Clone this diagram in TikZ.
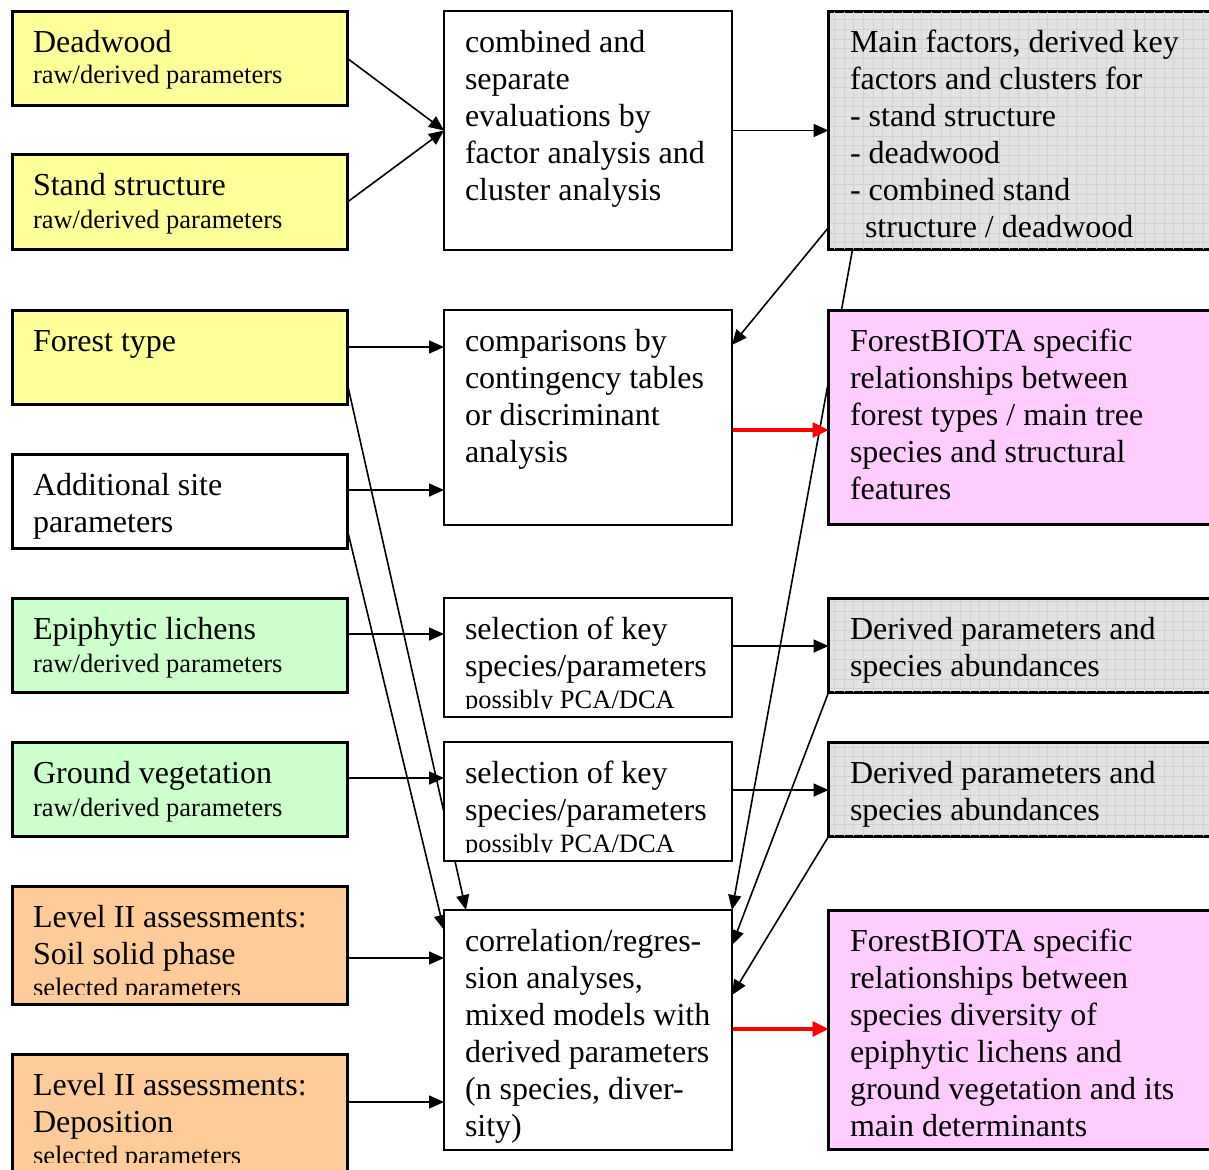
\documentclass[tikz,border=0pt]{standalone}
\usepackage{fontspec}
\setmainfont{Liberation Serif}
\usetikzlibrary{arrows.meta,backgrounds}
\definecolor{cyellow}{HTML}{FFFF99}
\definecolor{cgreen}{HTML}{CCFFCC}
\definecolor{corange}{HTML}{FFCC99}
\definecolor{cpink}{HTML}{FFCCFF}
\definecolor{cgray}{HTML}{E2E2E2}
\definecolor{cgrid}{HTML}{D2D2D2}
\tikzset{
  box/.style={draw=black, rectangle, anchor=north west, inner sep=0pt, outer sep=0pt},
  lbox/.style={box, line width=3pt, minimum width=335pt},
  mbox/.style={box, line width=2pt, fill=white, minimum width=288pt},
  rbox/.style={box, line width=3pt, minimum width=400pt},
  txt/.style={anchor=north west, inner sep=0pt, outer sep=0pt, align=left, font=\fontsize{32}{37}\selectfont},
  stxt/.style={anchor=base west, inner sep=0pt, outer sep=0pt, font=\fontsize{26.5}{31}\selectfont},
  conn/.style={line width=1.6pt, -{Triangle[length=15pt,width=13pt]}},
  redconn/.style={color=red, line width=3.2pt, -{Triangle[length=16pt,width=15pt]}},
  gridline/.style={draw=cgrid, line width=0.5pt}
}
\newcommand{\graygrid}[1]{%
  \begin{scope}
    \clip ([shift={(1.5pt,1.5pt)}]#1.south west) rectangle ([shift={(-1.5pt,-1.5pt)}]#1.north east);
    \draw[gridline, step=9.7pt] (#1.south west) grid (#1.north east);
  \end{scope}}
\begin{document}
\begin{tikzpicture}[x=1pt,y=-1pt]
\useasboundingbox (0,0) rectangle (1209,1169);

% ---------- left column ----------
\node[lbox, fill=cyellow, minimum height=94pt] (dead) at (12.5,11.5) {};
\node[txt] (deadT) at (33,27) {\strut Deadwood};
\node[stxt] (deadS) at (33,84) {raw/derived parameters};

\node[lbox, fill=cyellow, minimum height=95pt] (stand) at (12.5,154.5) {};
\node[txt] (standT) at (33,170) {\strut Stand structure};
\node[stxt] (standS) at (33,228) {raw/derived parameters};

\node[lbox, fill=cyellow, minimum height=94pt] (forest) at (12.5,310.5) {};
\node[txt] (forestT) at (33,326) {\strut Forest type};

\node[lbox, fill=white, minimum height=94pt] (addl) at (12.5,454.5) {};
\node[txt] (addlT) at (33,470) {\strut Additional site\\parameters};

\node[lbox, fill=cgreen, minimum height=94pt] (epi) at (12.5,598.5) {};
\node[txt] (epiT) at (33,614) {\strut Epiphytic lichens};
\node[stxt] (epiS) at (33,672) {raw/derived parameters};

\node[lbox, fill=cgreen, minimum height=94pt] (ground) at (12.5,742.5) {};
\node[txt] (groundT) at (33,758) {\strut Ground vegetation};
\node[stxt] (groundS) at (33,816) {raw/derived parameters};

\node[lbox, fill=corange, minimum height=118pt] (soil) at (12.5,886.5) {};
\node[txt] (soilT) at (33,902) {\strut Level II assessments:\\Soil solid phase};
\begin{scope}
  \clip (14,960) rectangle (346,994);
  \node[stxt] (soilS) at (33,996) {selected parameters};
\end{scope}

\node[lbox, fill=corange, minimum height=150pt] (depo) at (12.5,1054.5) {};
\node[txt] (depoT) at (33,1070) {\strut Level II assessments:\\Deposition};
\begin{scope}
  \clip (14,1130) rectangle (346,1162);
  \node[stxt] (depoS) at (33,1164) {selected parameters};
\end{scope}

% ---------- middle column ----------
\node[mbox, minimum height=239pt] (comb) at (444,11) {};
\node[txt] (combT) at (465,27) {\strut combined and\\separate\\evaluations by\\factor analysis and\\cluster analysis};

\node[mbox, minimum height=215pt] (comp) at (444,310) {};
\node[txt] (compT) at (465,326) {\strut comparisons by\\contingency tables\\or discriminant\\analysis};

\node[mbox, minimum height=119pt] (sel1) at (444,598) {};
\node[txt] (sel1T) at (465,614) {\strut selection of key\\species/parameters};
\begin{scope}
  \clip (446,680) rectangle (730,708);
  \node[stxt] (sel1S) at (465,708) {possibly PCA/DCA};
\end{scope}

\node[mbox, minimum height=119pt] (sel2) at (444,742) {};
\node[txt] (sel2T) at (465,758) {\strut selection of key\\species/parameters};
\begin{scope}
  \clip (446,824) rectangle (730,852);
  \node[stxt] (sel2S) at (465,852) {possibly PCA/DCA};
\end{scope}

\node[mbox, minimum height=240pt] (corr) at (444,910) {};
\node[txt] (corrT) at (465,926) {\strut correlation/regres-\\sion analyses,\\mixed models with\\derived parameters\\(n species, diver-\\sity)};

% ---------- right column ----------
\node[rbox, fill=cgray, minimum height=238pt] (main) at (828.5,11.5) {};
\graygrid{main}
\node[txt] (mainT) at (850,27) {\strut Main factors, derived key\\factors and clusters for\\- stand structure\\- deadwood\\- combined stand\\\hspace*{15pt}structure / deadwood};

\node[rbox, fill=cpink, minimum height=214pt] (pink1) at (828.5,310.5) {};
\node[txt] (pink1T) at (850,326) {\strut ForestBIOTA specific\\relationships between\\forest types / main tree\\species and structural\\features};

\node[rbox, fill=cgray, minimum height=94pt] (der1) at (828.5,598.5) {};
\graygrid{der1}
\node[txt] (der1T) at (850,614) {\strut Derived parameters and\\species abundances};

\node[rbox, fill=cgray, minimum height=94pt] (der2) at (828.5,742.5) {};
\graygrid{der2}
\node[txt] (der2T) at (850,758) {\strut Derived parameters and\\species abundances};

\node[rbox, fill=cpink, minimum height=239pt] (pink2) at (828.5,910.5) {};
\node[txt] (pink2T) at (850,926) {\strut ForestBIOTA specific\\relationships between\\species diversity of\\epiphytic lichens and\\ground vegetation and its\\main determinants};

% ---------- connectors ----------
\begin{scope}[on background layer]
  \draw[conn] (dead.east) -- (comb.west);
  \draw[conn] (stand.east) -- (comb.west);
  \draw[conn] (comb.east) -- (main.west);
  \draw[conn] ([yshift=22pt]main.south west) -- ([yshift=-35pt]comp.north east);
  \draw[conn] ([xshift=24pt]main.south west) -- (corr.north east);
  \draw[conn] ([yshift=-36.5pt]forest.north east) -- ([yshift=-37pt]comp.north west);
  \draw[conn] ([yshift=20pt]forest.south east) -- ([xshift=22pt]corr.north west);
  \draw[conn] ([yshift=-35.5pt]addl.north east) -- ([yshift=35pt]comp.south west);
  \draw[conn] ([yshift=18pt]addl.south east) -- ([yshift=-20pt]corr.north west);
  \draw[conn] ([yshift=-35.5pt]epi.north east) -- ([yshift=-36pt]sel1.north west);
  \draw[conn] ([yshift=-48pt]sel1.north east) -- ([yshift=-47.5pt]der1.north west);
  \draw[conn] ([yshift=-35.5pt]ground.north east) -- ([yshift=-36pt]sel2.north west);
  \draw[conn] ([yshift=-48pt]sel2.north east) -- ([yshift=-47.5pt]der2.north west);
  \draw[conn] (der1.south west) -- ([yshift=-35pt]corr.north east);
  \draw[conn] (der2.south west) -- ([yshift=-85pt]corr.north east);
  \draw[conn] ([yshift=-71.5pt]soil.north east) -- ([yshift=-48pt]corr.north west);
  \draw[conn] ([yshift=-47.5pt]depo.north east) -- ([yshift=-192pt]corr.north west);
  \draw[redconn] ([yshift=-120pt]comp.north east) -- ([yshift=-119.5pt]pink1.north west);
  \draw[redconn] ([yshift=-119pt]corr.north east) -- ([yshift=-118.5pt]pink2.north west);
\end{scope}
\end{tikzpicture}
\end{document}
